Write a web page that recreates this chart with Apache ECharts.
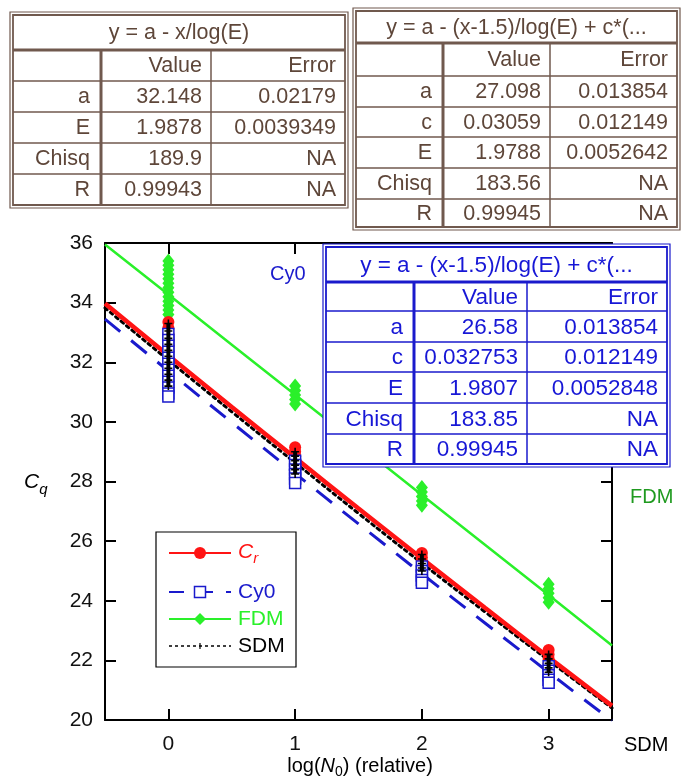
<!DOCTYPE html>
<html>
<head>
<meta charset="utf-8">
<script src="https://cdn.jsdelivr.net/npm/echarts@6/dist/echarts.min.js"></script>
<style>
  html, body { margin: 0; padding: 0; background: #fff; }
  #chart { width: 681px; height: 782px; }
</style>
</head>
<body>
<div id="chart"></div>
<script>
// ---- measured Cq replicates at each dilution step ----
const xLevels = [0, 1, 2, 3];
const xTicks = [0, 1, 2, 3];
const yTicks = [20, 22, 24, 26, 28, 30, 32, 34, 36];

const crValues = [
  [33.35, 33.15, 32.95, 32.75, 32.55, 32.35, 32.15, 31.95, 31.75],
  [29.15, 29.0, 28.85, 28.7, 28.55, 28.4],
  [25.6, 25.45, 25.3, 25.15, 25.0],
  [22.35, 22.2, 22.05, 21.9, 21.75]
];
const cy0Values = [
  [32.95, 32.75, 32.55, 32.35, 32.15, 31.95, 31.75, 31.55, 31.35, 31.15, 30.95, 30.85],
  [28.7, 28.55, 28.4, 28.25, 28.1, 27.95],
  [25.15, 25.0, 24.85, 24.7, 24.6],
  [21.8, 21.65, 21.5, 21.35, 21.25]
];
const fdmValues = [
  [35.4, 35.25, 35.1, 34.95, 34.8, 34.65, 34.5, 34.35, 34.2, 34.05, 33.9, 33.75, 33.6],
  [31.2, 31.05, 30.9, 30.75, 30.6],
  [27.8, 27.65, 27.5, 27.35, 27.2],
  [24.55, 24.4, 24.25, 24.1, 23.95]
];
const sdmValues = [
  [33.3, 33.05, 32.8, 32.6, 32.4, 32.2, 32.0, 31.8, 31.6, 31.4, 31.2],
  [29.0, 28.85, 28.7, 28.55, 28.4, 28.25],
  [25.55, 25.4, 25.25, 25.1, 25.0],
  [22.2, 22.05, 21.9, 21.75, 21.6]
];

// ---- fitted curves, sampled across the axis range ----
const fitX = [-0.5, 0, 0.5, 1, 1.5, 2, 2.5, 3, 3.5];
const crFit  = [33.968, 32.228, 30.502, 28.793, 27.098, 25.419, 23.755, 22.106, 20.473];
const sdmFit = [33.82, 32.07, 30.34, 28.63, 26.93, 25.26, 23.62, 22.0, 20.40];
const cy0Fit = [33.449, 31.707, 29.982, 28.273, 26.58, 24.904, 23.244, 21.600, 19.973];
const fdmFit = [35.95, 34.27, 32.59, 30.91, 29.23, 27.55, 25.87, 24.19, 22.5];

// ---- fit parameter tables ----
const tableHeader = ['Value', 'Error'];
const leftTitle = 'y = a - x/log(E)';
const leftParams = ['a', 'E', 'Chisq', 'R'];
const leftValues = ['32.148', '1.9878', '189.9', '0.99943'];
const leftErrors = ['0.02179', '0.0039349', 'NA', 'NA'];

const rightTitle = 'y = a - (x-1.5)/log(E) + c*(...';
const rightParams = ['a', 'c', 'E', 'Chisq', 'R'];
const rightValues = ['27.098', '0.03059', '1.9788', '183.56', '0.99945'];
const rightErrors = ['0.013854', '0.012149', '0.0052642', 'NA', 'NA'];

const insetTitle = 'y = a - (x-1.5)/log(E) + c*(...';
const insetParams = ['a', 'c', 'E', 'Chisq', 'R'];
const insetValues = ['26.58', '0.032753', '1.9807', '183.85', '0.99945'];
const insetErrors = ['0.013854', '0.012149', '0.0052848', 'NA', 'NA'];

// ---- styling ----
const FONT_FAMILY = '"Liberation Sans", Arial, Helvetica, sans-serif';
const RED = '#ff1414';
const BLUE = '#1a1acc';
const GREEN = '#2af02a';
const DARK_GREEN = '#1f9a1f';
const BROWN_LINE = '#70594e';
const BROWN_TEXT = '#5e4639';

const measureCtx = document.createElement('canvas').getContext('2d');
function fontStr(size, italic) {
  return (italic ? 'italic ' : '') + size + 'px ' + FONT_FAMILY;
}
function textWidth(text, size, italic) {
  measureCtx.font = fontStr(size, italic);
  return measureCtx.measureText(text).width;
}

// A run of text pieces (for italics and subscripts), laid out left to right.
function textRun(pieces, x, y, align, color) {
  const total = pieces.reduce((s, p) => s + textWidth(p.text, p.size, p.italic), 0);
  let cx = align === 'center' ? x - total / 2 : x;
  return pieces.map(p => {
    const el = {
      type: 'text', z: 120,
      style: {
        text: p.text, x: cx, y: y + (p.dy || 0),
        fill: p.fill || color, font: fontStr(p.size, p.italic),
        align: 'left', verticalAlign: 'middle'
      }
    };
    cx += textWidth(p.text, p.size, p.italic);
    return el;
  });
}

function seg(x1, y1, x2, y2, stroke, lw, dash) {
  return {
    type: 'line', z: 110,
    shape: { x1, y1, x2, y2 },
    style: { stroke, lineWidth: lw, lineDash: dash || null }
  };
}

// Double-bordered parameter table
function makeTable(box, title, params, values, errors, lineColor, textColor, fontSize) {
  const els = [];
  const { x0, y0, x1, y1, rowY, colX } = box;
  const ix0 = x0 + 3, iy0 = y0 + 3, ix1 = x1 - 3, iy1 = y1 - 3;
  els.push({ type: 'rect', z: 105, shape: { x: x0, y: y0, width: x1 - x0, height: y1 - y0 },
    style: { fill: '#fff', stroke: lineColor, lineWidth: 1.2 } });
  els.push({ type: 'rect', z: 110, shape: { x: ix0, y: iy0, width: ix1 - ix0, height: iy1 - iy0 },
    style: { fill: 'none', stroke: lineColor, lineWidth: 1.8 } });
  els.push(seg(ix0, rowY[0], ix1, rowY[0], lineColor, 3));
  for (let i = 1; i < rowY.length; i++) els.push(seg(ix0, rowY[i], ix1, rowY[i], lineColor, 1.5));
  els.push(seg(colX[0], rowY[0], colX[0], iy1, lineColor, 3));
  els.push(seg(colX[1], rowY[0], colX[1], iy1, lineColor, 1.5));
  const txt = (text, x, y, align) => ({
    type: 'text', z: 120,
    style: { text, x, y, fill: textColor, font: fontStr(fontSize, false), align, verticalAlign: 'middle' }
  });
  els.push(txt(title, (ix0 + ix1) / 2, (iy0 + rowY[0]) / 2 + 1, 'center'));
  const bounds = rowY.concat([iy1]);
  const hy = (bounds[0] + bounds[1]) / 2 + 1;
  els.push(txt(tableHeader[0], colX[1] - 9, hy, 'right'));
  els.push(txt(tableHeader[1], ix1 - 9, hy, 'right'));
  params.forEach((p, i) => {
    const cy = (bounds[i + 1] + bounds[i + 2]) / 2 + 1;
    els.push(txt(p, colX[0] - 11, cy, 'right'));
    els.push(txt(values[i], colX[1] - 9, cy, 'right'));
    els.push(txt(errors[i], ix1 - 9, cy, 'right'));
  });
  return els;
}

function pointsOf(groups) {
  return groups.flatMap((vals, i) => vals.map(v => [xLevels[i], v]));
}
function curveOf(ys) {
  return fitX.map((x, i) => [x, ys[i]]);
}

const plusPath = 'path://M4,0H6V4H10V6H6V10H4V6H0V4H4Z';

const series = [
  { type: 'line', name: 'FDM fit', data: curveOf(fdmFit), showSymbol: false, z: 2, silent: true,
    lineStyle: { color: GREEN, width: 2.5 } },
  { type: 'line', name: 'SDM fit', data: curveOf(sdmFit), smooth: true, showSymbol: false, z: 2, silent: true,
    lineStyle: { color: '#000', width: 3, type: [3, 4], cap: 'round' } },
  { type: 'line', name: 'Cr fit', data: curveOf(crFit), smooth: true, showSymbol: false, z: 2, silent: true,
    lineStyle: { color: RED, width: 4.5 } },
  { type: 'line', name: 'Cy0 fit', data: curveOf(cy0Fit), smooth: true, showSymbol: false, z: 2, silent: true,
    lineStyle: { color: BLUE, width: 3, type: [20, 14] } },
  { type: 'scatter', name: 'FDM', data: pointsOf(fdmValues), symbol: 'diamond', symbolSize: [12, 15], z: 3,
    itemStyle: { color: GREEN, opacity: 1 } },
  { type: 'scatter', name: 'Cr', data: pointsOf(crValues), symbol: 'circle', symbolSize: 12, z: 4,
    itemStyle: { color: RED, opacity: 1 } },
  { type: 'scatter', name: 'Cy0', data: pointsOf(cy0Values), symbol: 'rect', symbolSize: 11, z: 5,
    itemStyle: { color: '#fff', borderColor: BLUE, borderWidth: 1.5, opacity: 1 } }
];
// SDM replicate stacks: joined vertically, then marked with small crosses
sdmValues.forEach((vals, i) => {
  series.push({ type: 'line', name: 'SDM stack ' + i, data: vals.map(v => [xLevels[i], v]),
    showSymbol: false, z: 6, silent: true, lineStyle: { color: '#000', width: 4 } });
});
series.push({ type: 'scatter', name: 'SDM', data: pointsOf(sdmValues), symbol: plusPath, symbolSize: 8, z: 7,
  itemStyle: { color: '#000', opacity: 1 } });

// ---- annotation graphics ----
const graphics = [];
graphics.push(...makeTable(
  { x0: 10, y0: 12, x1: 348, y1: 208, rowY: [50, 81, 112, 143, 174], colX: [101, 211] },
  leftTitle, leftParams, leftValues, leftErrors, BROWN_LINE, BROWN_TEXT, 21.5));
graphics.push(...makeTable(
  { x0: 353, y0: 8, x1: 680, y1: 230, rowY: [43, 76, 107, 137, 168, 199], colX: [443, 550] },
  rightTitle, rightParams, rightValues, rightErrors, BROWN_LINE, BROWN_TEXT, 21.5));
graphics.push(...makeTable(
  { x0: 323, y0: 244, x1: 670, y1: 467, rowY: [282, 311, 342, 372, 403, 434], colX: [414, 527] },
  insetTitle, insetParams, insetValues, insetErrors, BLUE, '#1717d6', 22.5));

// legend box
graphics.push({ type: 'rect', z: 105, shape: { x: 156, y: 532, width: 140, height: 135 },
  style: { fill: '#fff', stroke: '#000', lineWidth: 1.2 } });
graphics.push(seg(169, 553, 231, 553, RED, 2));
graphics.push({ type: 'circle', z: 115, shape: { cx: 200, cy: 553, r: 6 }, style: { fill: RED } });
graphics.push(...textRun([{ text: 'C', size: 21, italic: true }, { text: 'r', size: 15, italic: true, dy: 7 }],
  238, 552, 'left', RED));
graphics.push(seg(169, 592, 184, 592, BLUE, 2));
graphics.push({ type: 'rect', z: 115, shape: { x: 194.5, y: 586.5, width: 11, height: 11 },
  style: { fill: '#fff', stroke: BLUE, lineWidth: 1.5 } });
graphics.push(seg(206, 592, 213, 592, BLUE, 2));
graphics.push(seg(226, 592, 231, 592, BLUE, 2));
graphics.push(...textRun([{ text: 'Cy0', size: 21 }], 238, 592, 'left', BLUE));
graphics.push(seg(169, 619, 231, 619, GREEN, 2));
graphics.push({ type: 'polygon', z: 115, shape: { points: [[200, 613], [206, 619], [200, 625], [194, 619]] },
  style: { fill: GREEN } });
graphics.push(...textRun([{ text: 'FDM', size: 21 }], 238, 619, 'left', GREEN));
graphics.push(seg(169, 646, 231, 646, '#000', 1.5, [3, 3]));
graphics.push(seg(200, 643, 200, 649, '#000', 1.2));
graphics.push(...textRun([{ text: 'SDM', size: 21 }], 238, 646, 'left', '#000'));

// axis names and method labels
graphics.push(...textRun([{ text: 'C', size: 21, italic: true }, { text: 'q', size: 15, italic: true, dy: 8 }],
  24, 482, 'left', '#000'));
graphics.push(...textRun([
  { text: 'log(', size: 20 },
  { text: 'N', size: 20, italic: true },
  { text: '0', size: 14, dy: 6 },
  { text: ') (relative)', size: 20 }
], 360, 766, 'center', '#000'));
graphics.push(...textRun([{ text: 'Cy0', size: 20 }], 270, 274, 'left', BLUE));
graphics.push(...textRun([{ text: 'FDM', size: 20 }], 630, 497, 'left', DARK_GREEN));
graphics.push(...textRun([{ text: 'SDM', size: 20 }], 624, 745, 'left', '#000'));

const axisLine = { show: true, onZero: false, lineStyle: { color: '#000', width: 2 } };
const tickStyle = { color: '#000', width: 2 };

const option = {
  backgroundColor: '#fff',
  animation: false,
  grid: { left: 105, right: 69, top: 243, bottom: 62, containLabel: false },
  xAxis: [
    { type: 'value', min: -0.5, max: 3.5, position: 'bottom',
      axisLine, splitLine: { show: false },
      axisTick: { show: true, inside: true, length: 11, lineStyle: tickStyle, customValues: xTicks },
      axisLabel: { show: true, customValues: xTicks, margin: 14, fontSize: 21, color: '#111', fontFamily: FONT_FAMILY } },
    { type: 'value', min: -0.5, max: 3.5, position: 'top',
      axisLine, splitLine: { show: false },
      axisTick: { show: true, inside: true, length: 11, lineStyle: tickStyle, customValues: xTicks },
      axisLabel: { show: false } }
  ],
  yAxis: [
    { type: 'value', min: 20, max: 36, interval: 2, position: 'left',
      axisLine, splitLine: { show: false },
      axisTick: { show: true, inside: true, length: 11, lineStyle: tickStyle, customValues: yTicks },
      axisLabel: { show: true, customValues: yTicks, margin: 12, fontSize: 21, color: '#111', fontFamily: FONT_FAMILY } },
    { type: 'value', min: 20, max: 36, interval: 2, position: 'right',
      axisLine, splitLine: { show: false },
      axisTick: { show: true, inside: true, length: 11, lineStyle: tickStyle, customValues: yTicks },
      axisLabel: { show: false } }
  ],
  series,
  graphic: { elements: graphics }
};

const chart = echarts.init(document.getElementById('chart'), null, { renderer: 'canvas' });
chart.setOption(option);
</script>
</body>
</html>
